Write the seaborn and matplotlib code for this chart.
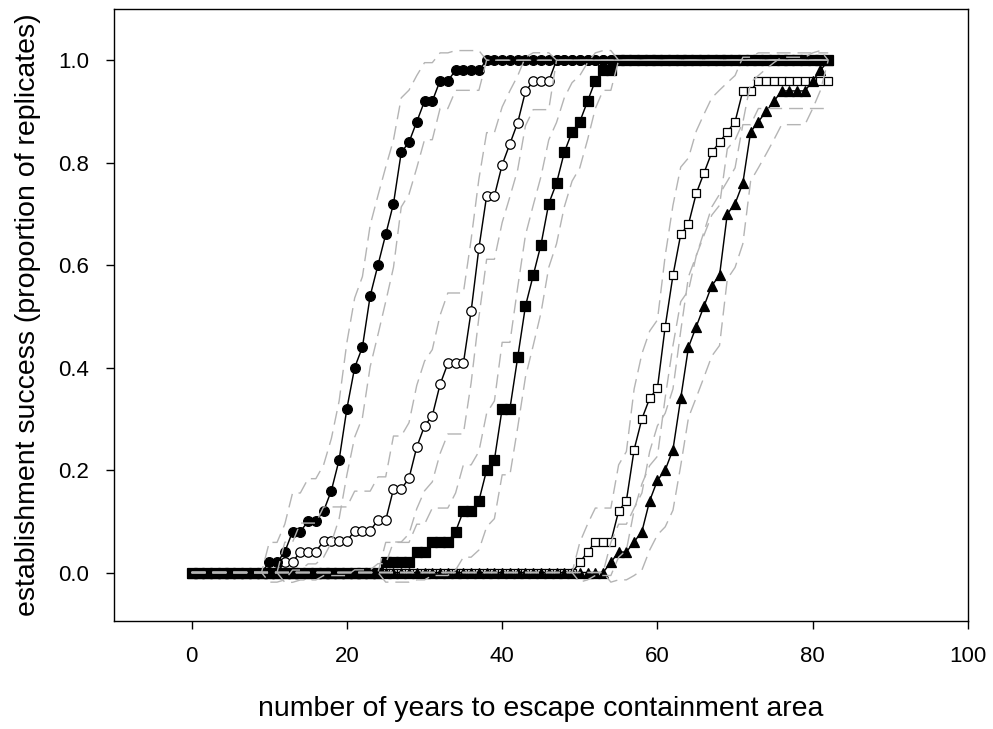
import matplotlib
matplotlib.use("Agg")
import matplotlib.pyplot as plt
import numpy as np
import seaborn as sns

# years 0..82, one point per year
YEARS = list(range(0, 83))

# proportions: first year that leaves 0, then the rise,
# the series stays at 1.0 afterwards
CIRCLE_FILLED_START = 10
CIRCLE_FILLED_RISE = [0.02, 0.02, 0.04, 0.08, 0.08, 0.10, 0.10, 0.12, 0.16, 0.22,
                      0.32, 0.40, 0.44, 0.54, 0.60, 0.66, 0.72, 0.82, 0.84, 0.88,
                      0.92, 0.92, 0.96, 0.96, 0.98, 0.98, 0.98, 0.98]

CIRCLE_OPEN_START = 12
CIRCLE_OPEN_RISE = [0.020, 0.020, 0.041, 0.041, 0.041, 0.061, 0.061, 0.061, 0.061,
                    0.082, 0.082, 0.082, 0.102, 0.102, 0.163, 0.163, 0.184, 0.245,
                    0.286, 0.306, 0.367, 0.408, 0.408, 0.408, 0.510, 0.633, 0.735,
                    0.735, 0.796, 0.837, 0.878, 0.939, 0.959, 0.959, 0.959]

SQUARE_FILLED_START = 25
SQUARE_FILLED_RISE = [0.02, 0.02, 0.02, 0.02, 0.04, 0.04, 0.06, 0.06, 0.06, 0.08,
                      0.12, 0.12, 0.14, 0.20, 0.22, 0.32, 0.32, 0.42, 0.52, 0.58,
                      0.64, 0.72, 0.76, 0.82, 0.86, 0.88, 0.92, 0.96, 0.98, 0.98]

SQUARE_OPEN_START = 50
SQUARE_OPEN_RISE = [0.02, 0.04, 0.06, 0.06, 0.06, 0.12, 0.14, 0.24, 0.30, 0.34,
                    0.36, 0.48, 0.58, 0.66, 0.68, 0.74, 0.78, 0.82, 0.84, 0.86,
                    0.88, 0.94, 0.94, 0.96, 0.96, 0.96, 0.96, 0.96, 0.96, 0.96,
                    0.96, 0.96, 0.96]

TRIANGLE_START = 54
TRIANGLE_RISE = [0.02, 0.04, 0.04, 0.06, 0.08, 0.14, 0.18, 0.20, 0.24, 0.34,
                 0.44, 0.48, 0.52, 0.56, 0.58, 0.70, 0.72, 0.76, 0.86, 0.88,
                 0.90, 0.92, 0.94, 0.94, 0.94, 0.94, 0.96, 0.98, 1.00]

# replicates behind each proportion (for the 95% binomial interval)
REPLICATES_OPEN_CIRCLE = 49
REPLICATES_OTHER = 50

X_TICKS = [0, 20, 40, 60, 80, 100]
Y_TICKS = [0.0, 0.2, 0.4, 0.6, 0.8, 1.0]


def full_series(start, rise):
    tail = len(YEARS) - start - len(rise)
    return [0.0] * start + rise + [1.0] * tail


def main():
    sns.set_theme(style="ticks")
    plt.rcParams["font.family"] = ["Liberation Sans", "DejaVu Sans"]
    plt.rcParams["text.color"] = "black"
    plt.rcParams["axes.labelcolor"] = "black"

    fig = plt.figure(figsize=(9.93, 7.29), dpi=100)
    ax = fig.add_axes([0.1148, 0.1486, 0.86, 0.8391])

    # open symbols first so the filled ones cover them where they overlap
    series = [
        (full_series(CIRCLE_OPEN_START, CIRCLE_OPEN_RISE), "o", "white", 6.8,
         REPLICATES_OPEN_CIRCLE),
        (full_series(SQUARE_OPEN_START, SQUARE_OPEN_RISE), "s", "white", 6.2,
         REPLICATES_OTHER),
        (full_series(CIRCLE_FILLED_START, CIRCLE_FILLED_RISE), "o", "black", 7.0,
         REPLICATES_OTHER),
        (full_series(SQUARE_FILLED_START, SQUARE_FILLED_RISE), "s", "black", 6.6,
         REPLICATES_OTHER),
        (full_series(TRIANGLE_START, TRIANGLE_RISE), "^", "black", 7.6,
         REPLICATES_OTHER),
    ]

    for values, marker, face, size, _ in series:
        sns.lineplot(x=YEARS, y=values, color="black", linewidth=1.05,
                     marker=marker, markersize=size, markerfacecolor=face,
                     markeredgecolor="black", markeredgewidth=0.9,
                     errorbar=None, zorder=2, ax=ax)

    # 95% binomial interval around each curve, grey dashed
    for values, _, _, _, n in series:
        p = np.array(values)
        half = 1.96 * np.sqrt(p * (1 - p) / n)
        for bound in (p + half, p - half):
            sns.lineplot(x=YEARS, y=bound, color="#b4b4b4", linewidth=1.0,
                         linestyle=(0, (10, 5)), errorbar=None, zorder=3, ax=ax)

    ax.set_xlim(-10, 100)
    ax.set_ylim(-0.094, 1.1)
    ax.set_xticks(X_TICKS)
    ax.set_yticks(Y_TICKS)
    ax.set_yticklabels([f"{t:.1f}" for t in Y_TICKS])
    ax.tick_params(direction="out", length=6, width=1, labelsize=16, pad=12,
                   colors="black")
    for spine in ax.spines.values():
        spine.set_linewidth(1.0)
        spine.set_color("black")

    ax.set_xlabel("number of years to escape containment area", fontsize=20.5,
                  labelpad=21)
    ax.set_ylabel("establishment success (proportion of replicates)",
                  fontsize=20.5, labelpad=12)

    fig.savefig("out.png", dpi=100)
    plt.close(fig)


if __name__ == "__main__":
    main()
